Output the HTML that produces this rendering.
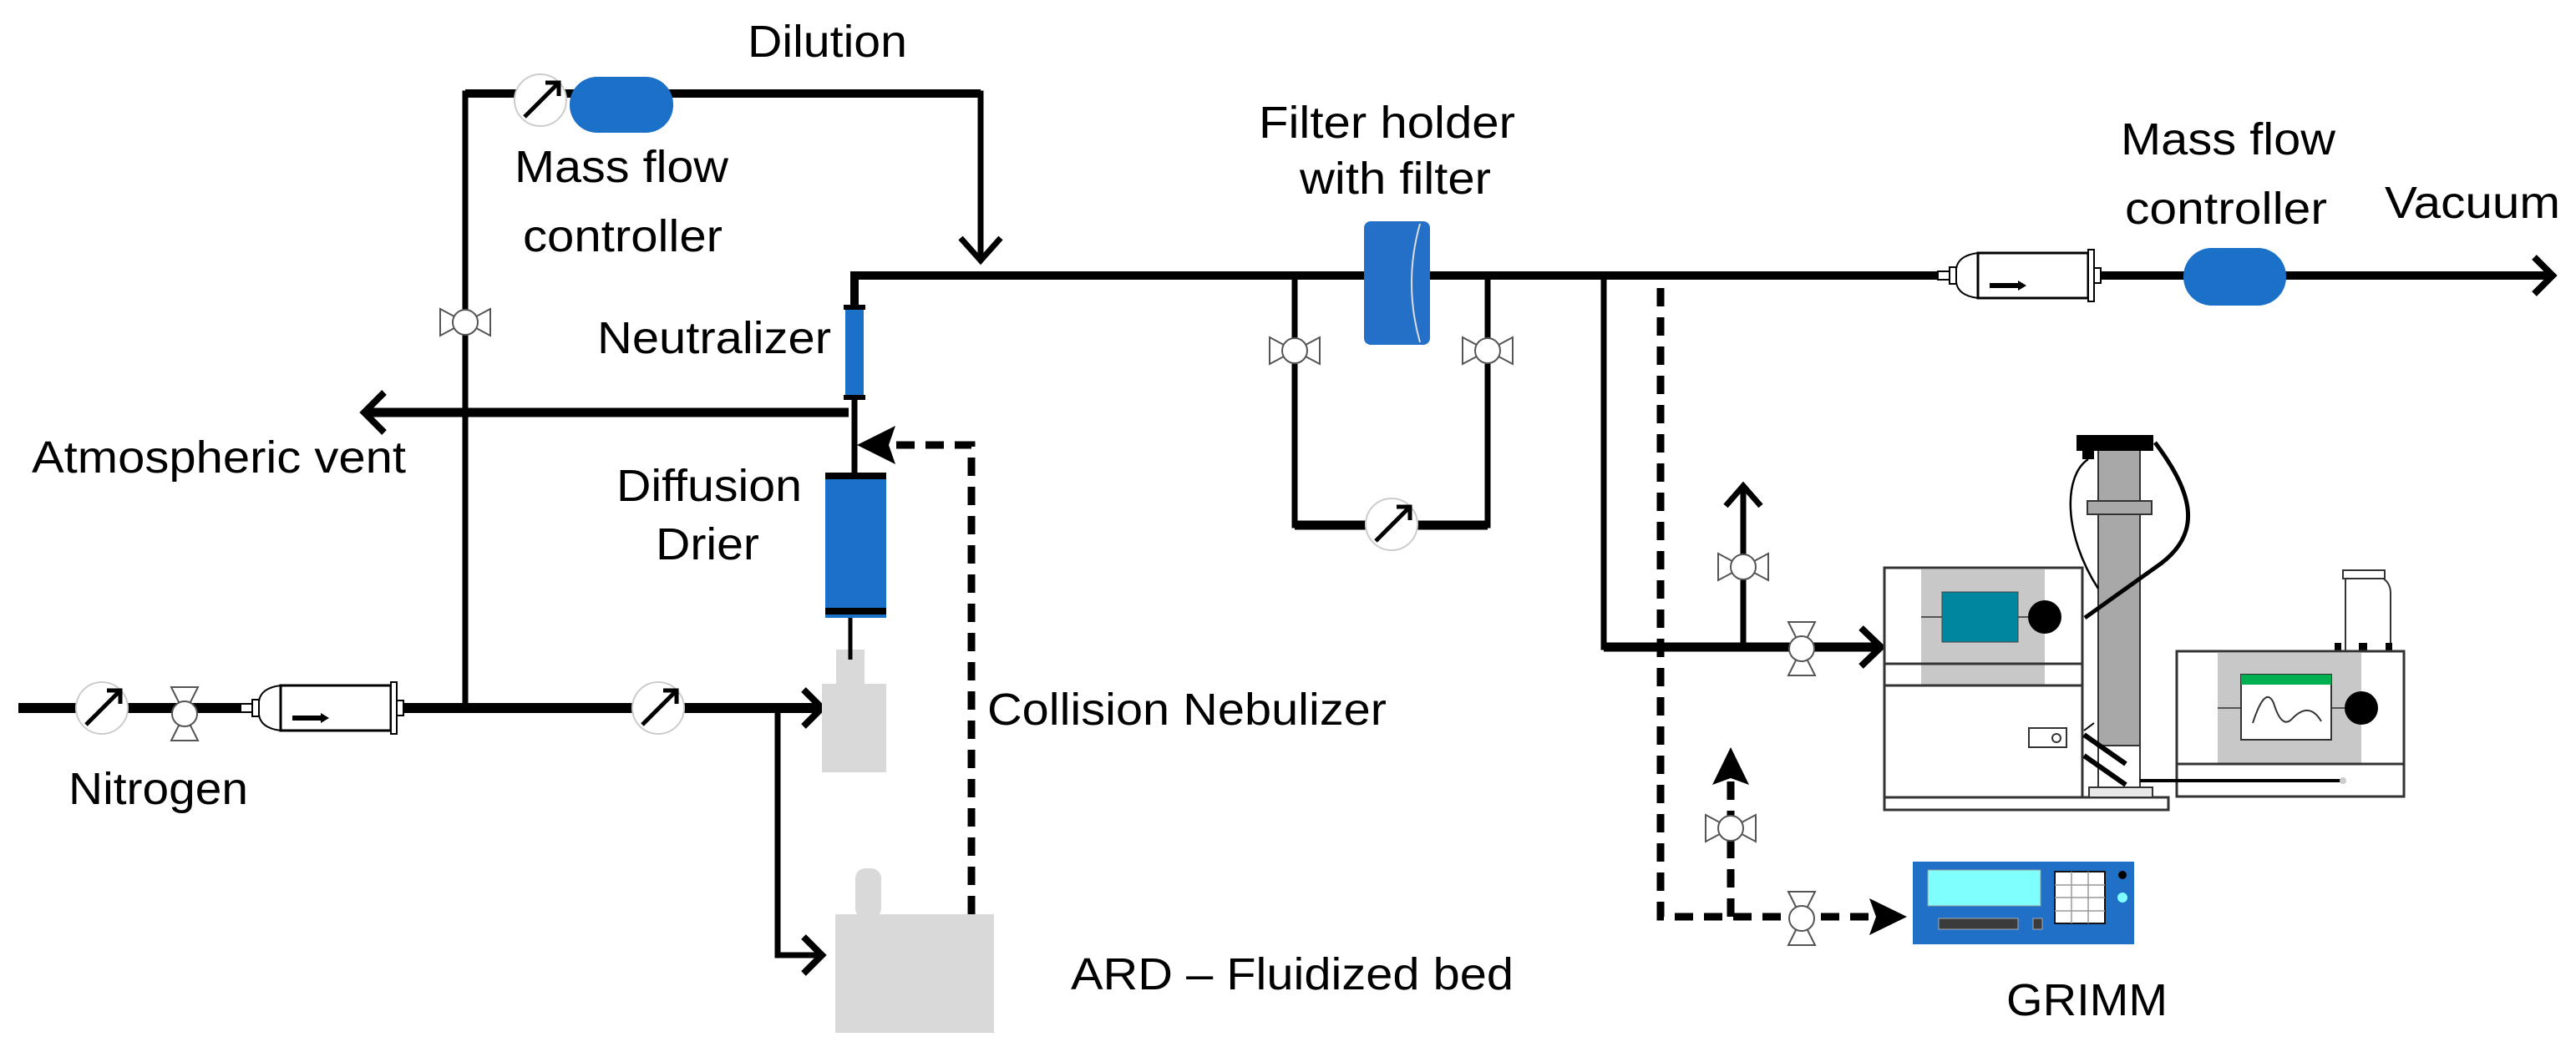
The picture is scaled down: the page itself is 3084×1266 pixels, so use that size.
<!DOCTYPE html>
<html><head><meta charset="utf-8"><style>
html,body{margin:0;padding:0;background:#fff}
svg{display:block}
text{font-family:"Liberation Sans",Arial,sans-serif;font-size:54px;fill:#000}
</style></head><body>
<svg width="3084" height="1266" viewBox="0 0 3084 1266" xmlns="http://www.w3.org/2000/svg">
<defs>
  <g id="vh"><!-- valve on vertical pipe: wings left/right -->
    <path d="M-30,-16 L0,0 L-30,16 Z M30,-16 L0,0 L30,16 Z" fill="#fff" stroke="#555" stroke-width="2"/>
    <circle r="15" fill="#fff" stroke="#555" stroke-width="2"/>
  </g>
  <g id="vv"><!-- valve on horizontal pipe: wings up/down -->
    <path d="M-16,-32 L0,0 L16,-32 Z M-16,32 L0,0 L16,32 Z" fill="#fff" stroke="#555" stroke-width="2"/>
    <circle r="15" fill="#fff" stroke="#555" stroke-width="2"/>
  </g>
  <g id="gauge">
    <circle r="31" fill="#fff" stroke="#ccc" stroke-width="2"/>
    <path d="M-19,20 L22,-21 M6,-21 L22,-21 L22,-5" fill="none" stroke="#000" stroke-width="5"/>
  </g>
  <g id="filt"><!-- inline filter, origin at left connector, width 180 -->
    <rect x="0" y="-5" width="14" height="10" fill="#fff" stroke="#000" stroke-width="2"/>
    <rect x="14" y="-10" width="8" height="20" fill="#fff" stroke="#000" stroke-width="2"/>
    <path d="M48,-27 Q24,-24 22,-8 L22,8 Q24,24 48,27 Z" fill="#fff" stroke="#000" stroke-width="2"/>
    <rect x="48" y="-27" width="132" height="54" fill="#fff" stroke="#000" stroke-width="3"/>
    <rect x="180" y="-31" width="7" height="62" fill="#fff" stroke="#000" stroke-width="2"/>
    <rect x="187" y="-9" width="8" height="18" fill="#fff" stroke="#000" stroke-width="2"/>
    <path d="M62,12 L98,12" stroke="#000" stroke-width="6"/>
    <path d="M96,6 L106,12 L96,18 Z" fill="#000"/>
  </g>
</defs>

<!-- ===== Left: nitrogen line ===== -->
<path d="M22,848 L982,848" stroke="#000" stroke-width="12"/>
<path d="M962,826 L984,848 L962,870" fill="none" stroke="#000" stroke-width="8"/>
<use href="#gauge" x="122" y="848"/>
<use href="#vv" x="221" y="855"/>
<g transform="translate(288,848)"><use href="#filt"/></g>
<!-- left vertical -->
<path d="M557,854 L557,112 L1174,112 L1174,308" fill="none" stroke="#000" stroke-width="7"/>
<path d="M557,112 L1174,112" stroke="#000" stroke-width="10"/>
<path d="M1150,285 L1174,312 L1198,285" fill="none" stroke="#000" stroke-width="7"/>
<use href="#vh" x="557" y="386"/>
<use href="#gauge" x="647" y="120"/>
<rect x="682" y="92" width="124" height="67" rx="33" fill="#1b70c8"/>
<use href="#gauge" x="788" y="848"/>
<!-- branch to ARD -->
<path d="M931,848 L931,1144 L982,1144" fill="none" stroke="#000" stroke-width="7"/>
<path d="M962,1122 L984,1144 L962,1166" fill="none" stroke="#000" stroke-width="8"/>

<!-- nebulizer -->
<rect x="1001" y="778" width="34" height="45" fill="#d9d9d9"/>
<rect x="984" y="819" width="77" height="106" fill="#d9d9d9"/>
<path d="M1018,740 L1018,790" stroke="#000" stroke-width="5"/>
<!-- ARD -->
<rect x="1024" y="1040" width="31" height="60" rx="12" fill="#d9d9d9"/>
<rect x="1000" y="1095" width="190" height="142" fill="#d9d9d9"/>

<!-- drier & neutralizer -->
<rect x="988" y="566" width="73" height="174" fill="#1b70c8"/>
<rect x="988" y="566" width="73" height="8" fill="#000"/>
<rect x="988" y="728" width="73" height="8" fill="#000"/>
<path d="M1023,566 L1023,477" stroke="#000" stroke-width="7"/>
<rect x="1012" y="367" width="22" height="110" fill="#1b70c8"/>
<rect x="1010" y="365" width="26" height="6" fill="#000"/>
<rect x="1010" y="473" width="26" height="6" fill="#000"/>
<path d="M1023,367 L1023,330 L3050,330" fill="none" stroke="#000" stroke-width="10"/>
<!-- atmospheric vent -->
<path d="M1016,494 L440,494" stroke="#000" stroke-width="11"/>
<path d="M460,470 L436,494 L460,518" fill="none" stroke="#000" stroke-width="8"/>
<!-- dashed return -->
<path d="M1163,1095 L1163,533 L1068,533" fill="none" stroke="#000" stroke-width="9" stroke-dasharray="22,13"/>
<path d="M1026,533 L1072,510 L1064,533 L1072,556 Z" fill="#000"/>

<!-- ===== Filter holder bypass ===== -->
<path d="M1550,330 L1550,629 L1781,629 L1781,330" fill="none" stroke="#000" stroke-width="7"/>
<path d="M1550,629 L1781,629" stroke="#000" stroke-width="11"/>
<use href="#vh" x="1550" y="420"/>
<use href="#vh" x="1781" y="420"/>
<use href="#gauge" x="1666" y="628"/>
<rect x="1633" y="265" width="79" height="148" rx="8" fill="#2470c8"/>
<path d="M1700,268 Q1680,339 1700,410" fill="none" stroke="#ddd" stroke-width="2"/>

<!-- right top line components -->
<g transform="translate(2320,330)"><use href="#filt"/></g>
<rect x="2614" y="297" width="123" height="69" rx="34" fill="#1b70c8"/>
<path d="M3034,308 L3056,330 L3034,352" fill="none" stroke="#000" stroke-width="8"/>

<!-- SMPS branch -->
<path d="M1920,330 L1920,775 L2250,775" fill="none" stroke="#000" stroke-width="7"/>
<path d="M1920,775 L2250,775" stroke="#000" stroke-width="11"/>
<path d="M2228,752 L2252,775 L2228,798" fill="none" stroke="#000" stroke-width="8"/>
<path d="M2087,775 L2087,585" stroke="#000" stroke-width="7"/>
<path d="M2066,606 L2087,582 L2108,606" fill="none" stroke="#000" stroke-width="7"/>
<use href="#vh" x="2087" y="679"/>
<use href="#vv" x="2157" y="777"/>
<!-- dashed to GRIMM -->
<path d="M1988,345 L1988,1098 L2250,1098" fill="none" stroke="#000" stroke-width="9" stroke-dasharray="22,13"/>
<path d="M2072,1098 L2072,935" stroke="#000" stroke-width="9" stroke-dasharray="22,13"/>
<path d="M2072,895 L2094,940 L2072,932 L2050,940 Z" fill="#000"/>
<path d="M2283,1098 L2238,1076 L2246,1098 L2238,1120 Z" fill="#000"/>
<use href="#vh" x="2072" y="992"/>
<use href="#vv" x="2157" y="1100"/>

<!-- SMPS instrument -->
<rect x="2256" y="680" width="237" height="275" fill="#fff" stroke="#333" stroke-width="3"/>
<rect x="2300" y="682" width="148" height="139" fill="#c8c8c8"/>
<path d="M2256,795 L2493,795 M2256,821 L2493,821" stroke="#333" stroke-width="3"/>
<path d="M2300,739 L2448,739" stroke="#555" stroke-width="2"/>
<rect x="2325" y="709" width="91" height="60" fill="#00869f" stroke="#444" stroke-width="1"/>
<circle cx="2448" cy="739" r="20" fill="#000"/>
<rect x="2429" y="872" width="45" height="23" fill="#fff" stroke="#333" stroke-width="2"/>
<circle cx="2462" cy="884" r="5" fill="#fff" stroke="#333" stroke-width="2"/>
<rect x="2256" y="955" width="340" height="15" fill="#fff" stroke="#333" stroke-width="3"/>
<!-- column -->
<rect x="2512" y="538" width="50" height="355" fill="#a8a8a8" stroke="#333" stroke-width="2"/>
<rect x="2512" y="893" width="50" height="52" fill="#fff" stroke="#333" stroke-width="2"/>
<rect x="2499" y="600" width="77" height="16" fill="#a8a8a8" stroke="#333" stroke-width="2"/>
<rect x="2486" y="521" width="92" height="19" fill="#000"/>
<rect x="2493" y="538" width="14" height="12" fill="#000"/>
<rect x="2501" y="943" width="76" height="12" fill="#e8e8e8" stroke="#333" stroke-width="2"/>
<path d="M2500,550 C2470,570 2470,640 2512,705" fill="none" stroke="#000" stroke-width="2.5"/>
<path d="M2580,530 C2625,590 2640,640 2580,680 L2496,740" fill="none" stroke="#000" stroke-width="5"/>
<path d="M2495,880 L2545,915 M2495,905 L2545,940" stroke="#000" stroke-width="6"/>
<path d="M2495,875 L2507,866" stroke="#000" stroke-width="2"/>
<!-- CPC -->
<path d="M2808,780 L2808,696 Q2808,690 2812,690 L2848,690 Q2862,696 2862,710 L2862,780 Z" fill="#fff" stroke="#333" stroke-width="2"/>
<rect x="2805" y="683" width="50" height="10" fill="#fff" stroke="#333" stroke-width="2"/>
<rect x="2795" y="770" width="8" height="10" fill="#000"/><rect x="2824" y="770" width="10" height="10" fill="#000"/><rect x="2856" y="770" width="8" height="10" fill="#000"/>
<rect x="2606" y="780" width="272" height="174" fill="#fff" stroke="#333" stroke-width="3"/>
<rect x="2655" y="782" width="172" height="132" fill="#c8c8c8"/>
<path d="M2606,915 L2878,915" stroke="#333" stroke-width="3"/>
<path d="M2655,848 L2827,848" stroke="#555" stroke-width="2"/>
<rect x="2683" y="808" width="108" height="78" fill="#fff" stroke="#333" stroke-width="2"/>
<rect x="2683" y="808" width="108" height="12" fill="#00b050"/>
<path d="M2697,866 Q2712,820 2722,842 Q2732,875 2745,860 Q2765,840 2779,864" fill="none" stroke="#333" stroke-width="2"/>
<circle cx="2827" cy="848" r="20" fill="#000"/>
<path d="M2562,935 L2805,935" stroke="#000" stroke-width="4"/>
<circle cx="2805" cy="935" r="4" fill="#ccc"/>

<!-- GRIMM -->
<rect x="2290" y="1032" width="265" height="99" fill="#2070c8"/>
<rect x="2308" y="1042" width="135" height="43" fill="#80ffff" stroke="#999" stroke-width="1"/>
<rect x="2460" y="1044" width="60" height="62" fill="#fff" stroke="#111" stroke-width="2"/>
<path d="M2480,1044 L2480,1106 M2500,1044 L2500,1106 M2460,1060 L2520,1060 M2460,1075 L2520,1075 M2460,1091 L2520,1091" stroke="#999" stroke-width="1.5"/>
<rect x="2321" y="1100" width="95" height="13" fill="#3b3b3b" stroke="#aaa" stroke-width="1"/>
<rect x="2434" y="1100" width="11" height="13" fill="#3b3b3b" stroke="#aaa" stroke-width="1"/>
<circle cx="2541" cy="1048" r="5" fill="#000"/>
<circle cx="2541" cy="1075" r="6" fill="#80ffff"/>

<!-- ===== Labels ===== -->
<text x="895" y="68" textLength="191" lengthAdjust="spacingAndGlyphs">Dilution</text>
<text x="616" y="218" textLength="256" lengthAdjust="spacingAndGlyphs">Mass flow</text>
<text x="626" y="301" textLength="239" lengthAdjust="spacingAndGlyphs">controller</text>
<text x="715" y="423" textLength="280" lengthAdjust="spacingAndGlyphs">Neutralizer</text>
<text x="38" y="566" textLength="448" lengthAdjust="spacingAndGlyphs">Atmospheric vent</text>
<text x="738" y="600" textLength="222" lengthAdjust="spacingAndGlyphs">Diffusion</text>
<text x="785" y="670" textLength="124" lengthAdjust="spacingAndGlyphs">Drier</text>
<text x="1182" y="868" textLength="478" lengthAdjust="spacingAndGlyphs">Collision Nebulizer</text>
<text x="82" y="963" textLength="215" lengthAdjust="spacingAndGlyphs">Nitrogen</text>
<text x="1282" y="1185" textLength="530" lengthAdjust="spacingAndGlyphs">ARD – Fluidized bed</text>
<text x="1507" y="165" textLength="307" lengthAdjust="spacingAndGlyphs">Filter holder</text>
<text x="1556" y="232" textLength="229" lengthAdjust="spacingAndGlyphs">with filter</text>
<text x="2539" y="185" textLength="257" lengthAdjust="spacingAndGlyphs">Mass flow</text>
<text x="2544" y="268" textLength="242" lengthAdjust="spacingAndGlyphs">controller</text>
<text x="2855" y="261" textLength="210" lengthAdjust="spacingAndGlyphs">Vacuum</text>
<text x="2402" y="1216" textLength="193" lengthAdjust="spacingAndGlyphs">GRIMM</text>
</svg>
</body></html>
